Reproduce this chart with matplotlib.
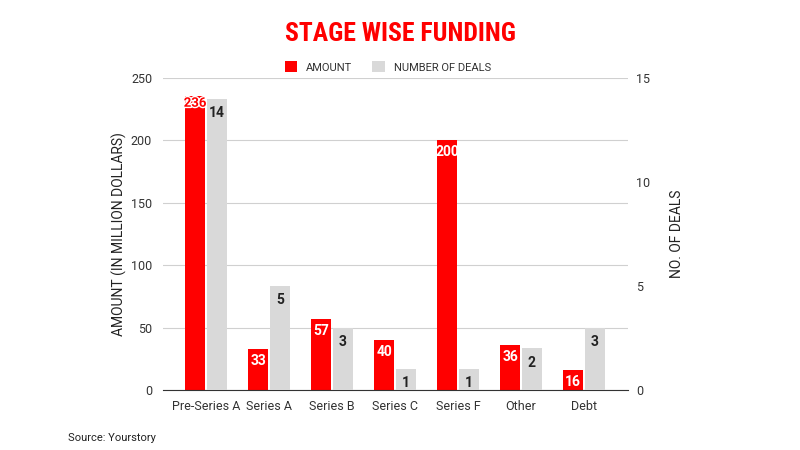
import numpy as np
from matplotlib import pyplot as plt
from matplotlib import font_manager
import matplotlib.patheffects as pe

plt.rcParams['font.family'] = ['Roboto', 'DejaVu Sans']

stages = ["Pre-Series A", "Series A", "Series B", "Series C", "Series F", "Other", "Debt"]
amount = [236, 33, 57, 40, 200, 36, 16]
deals = [14, 5, 3, 1, 1, 2, 3]

red = "#ff0000"
grey = "#d9d9d9"

# pick a narrow font for the title if one is around
names = {f.name for f in font_manager.fontManager.ttflist}
title_font = "Roboto"
for cand in ["Roboto Condensed", "Liberation Sans Narrow", "Open Sans Condensed", "DejaVu Sans Condensed"]:
    if cand in names:
        title_font = cand
        break

fig = plt.figure(figsize=(8, 4.5), dpi=100)
ax = fig.add_axes([0.204, 0.1333, 0.581, 0.6933])
ax2 = ax.twinx()

x = np.arange(len(stages))
w = 0.315
gap = 0.016
bars1 = ax.bar(x - w / 2 - gap, amount, w, color=red, label="AMOUNT", zorder=3)
bars2 = ax2.bar(x + w / 2 + gap, deals, w, color=grey, label="NUMBER OF DEALS", zorder=3)

ax.set_ylim(0, 250)
ax2.set_ylim(0, 15)
ax.set_xlim(-0.68, 6.70)
ax.set_yticks(range(0, 251, 50))
ax2.set_yticks([0, 5, 10, 15])
ax.set_xticks(x)
ax.set_xticklabels(stages, fontsize=9, color="#222222")
ax.yaxis.grid(True, color="#d0d0d0", linewidth=0.8, zorder=0)
ax.set_axisbelow(True)

for a in (ax, ax2):
    for s in a.spines.values():
        s.set_visible(False)
    a.tick_params(length=0, labelsize=9, colors="#333333")
ax.spines["bottom"].set_visible(True)
ax.spines["bottom"].set_color("#333333")
ax.spines["bottom"].set_zorder(5)
ax.tick_params(axis="x", pad=7)
ax.tick_params(axis="y", pad=8)
ax2.tick_params(axis="y", pad=6)

# value labels
for i, v in enumerate(amount):
    if v == max(amount):
        ax.text(x[i] - w / 2 - gap, v - 1, str(v), ha="center", va="top", fontsize=9.5,
                fontweight="bold", color=red, zorder=6,
                path_effects=[pe.withStroke(linewidth=2, foreground="white")])
    else:
        ax.text(x[i] - w / 2 - gap, v - 4, str(v), ha="center", va="top", fontsize=10,
                fontweight="bold", color="white", zorder=6)
for i, v in enumerate(deals):
    ax2.text(x[i] + w / 2 + gap, v - 0.35, str(v), ha="center", va="top", fontsize=10,
             fontweight="bold", color="#222222", zorder=6)

ax.set_ylabel("AMOUNT (IN MILLION DOLLARS)", fontsize=10, color="#222222", labelpad=3)
ax2.set_ylabel("NO. OF DEALS", fontsize=10, color="#222222", labelpad=14)

fig.text(0.5, 0.909, "STAGE WISE FUNDING", ha="center", va="baseline", fontsize=18.5,
         fontweight="bold", fontstretch="condensed", color=red,
         family=[title_font, "DejaVu Sans"])

h1, l1 = ax.get_legend_handles_labels()
h2, l2 = ax2.get_legend_handles_labels()
fig.legend(h1 + h2, l1 + l2, loc="center", bbox_to_anchor=(0.485, 0.851), ncol=2,
           frameon=False, fontsize=8, handlelength=1.1, handleheight=1.1,
           columnspacing=1.8, handletextpad=0.8, labelcolor="#333333")

fig.text(0.085, 0.02, "Source: Yourstory", fontsize=8, color="#222222")

fig.savefig("out.png", dpi=100)
